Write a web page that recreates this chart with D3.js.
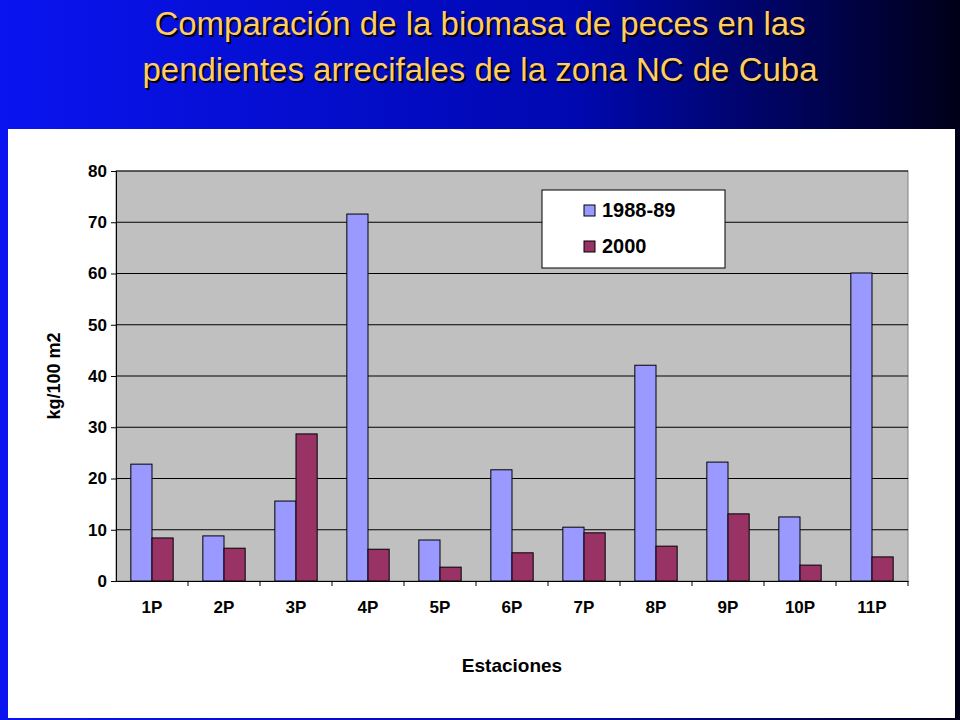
<!DOCTYPE html>
<html><head><meta charset="utf-8">
<script src="https://cdn.jsdelivr.net/npm/d3@7"></script>
<style>body{margin:0;overflow:hidden}</style>
</head><body>
<svg id="chart" width="960" height="720"></svg>
<script>
// data
const stations = ["1P","2P","3P","4P","5P","6P","7P","8P","9P","10P","11P"];
const series1988 = [22.8, 8.8, 15.6, 71.6, 8.0, 21.7, 10.5, 42.1, 23.2, 12.5, 60.1];
const series2000 = [8.4, 6.4, 28.7, 6.2, 2.7, 5.5, 9.4, 6.8, 13.1, 3.1, 4.7];
const seriesNames = ["1988-89", "2000"];
const yTicks = [0,10,20,30,40,50,60,70,80];
const colors = ["#9999ff", "#993366"];

const svg = d3.select("#chart");
const defs = svg.append("defs");
const grad = defs.append("linearGradient").attr("id","bg").attr("x1","0").attr("x2","1");
grad.append("stop").attr("offset","0").attr("stop-color","#0a14f0");
grad.append("stop").attr("offset","0.6").attr("stop-color","#0008b0");
grad.append("stop").attr("offset","1").attr("stop-color","#000018");
svg.append("rect").attr("width",960).attr("height",720).attr("fill","url(#bg)");
svg.append("rect").attr("x",8).attr("y",129).attr("width",947).attr("height",589).attr("fill","#fff");

// title
const title = ["Comparación de la biomasa de peces en las","pendientes arrecifales de la zona NC de Cuba"];
title.forEach((t,i) => {
  svg.append("text").attr("x",482).attr("y",37+i*46).attr("text-anchor","middle")
    .attr("font-family","Arial, Liberation Sans").attr("font-size",33).attr("fill","#000")
    .text(t);
  svg.append("text").attr("x",480).attr("y",35+i*46).attr("text-anchor","middle")
    .attr("font-family","Arial, Liberation Sans").attr("font-size",33).attr("fill","#ffcc66")
    .text(t);
});

const pLeft = 116, pRight = 908, pTop = 171, pBottom = 581;
const x = d3.scaleBand().domain(stations).range([pLeft, pRight]);
const y = d3.scaleLinear().domain([0,80]).range([pBottom, pTop]);

svg.append("rect").attr("x",pLeft).attr("y",pTop).attr("width",pRight-pLeft).attr("height",pBottom-pTop)
  .attr("fill","#c0c0c0").attr("stroke","#808080");
svg.append("g").selectAll("line").data(yTicks.slice(1)).join("line")
  .attr("x1",pLeft).attr("x2",pRight).attr("y1",d=>y(d)).attr("y2",d=>y(d)).attr("stroke","#000");

const bw = x.bandwidth() * 0.294;
const g = svg.append("g");
stations.forEach((s,i) => {
  [series1988[i], series2000[i]].forEach((v,j) => {
    g.append("rect").attr("x", x(s) + x.bandwidth()*0.206 + j*bw).attr("width",bw)
      .attr("y",y(v)).attr("height",pBottom-y(v))
      .attr("fill",colors[j]).attr("stroke","#000");
  });
});

const yAx = svg.append("g").attr("transform",`translate(${pLeft},0)`)
  .call(d3.axisLeft(y).tickValues(yTicks).tickSize(5).tickPadding(4));
const xAx = svg.append("g").attr("transform",`translate(0,${pBottom})`)
  .call(d3.axisBottom(x).tickSize(0).tickPadding(20));
xAx.selectAll(".tick").append("line").attr("x1",x.bandwidth()/2).attr("x2",x.bandwidth()/2).attr("y2",5).attr("stroke","#000");
[yAx, xAx].forEach(a => {
  a.selectAll("text").attr("font-family","Arial, Liberation Sans").attr("font-size",17).attr("font-weight","bold").attr("fill","#000");
  a.select(".domain").attr("stroke","#000");
});

svg.append("text").attr("x",512).attr("y",672).attr("text-anchor","middle")
  .attr("font-family","Arial, Liberation Sans").attr("font-size",19).attr("font-weight","bold").text("Estaciones");
svg.append("text").attr("transform","translate(60,376) rotate(-90)").attr("text-anchor","middle")
  .attr("font-family","Arial, Liberation Sans").attr("font-size",18).attr("font-weight","bold").text("kg/100 m2");

// legend
const lg = svg.append("g").attr("transform","translate(542,190)");
lg.append("rect").attr("width",183).attr("height",78).attr("fill","#fff").attr("stroke","#000");
seriesNames.forEach((n,i) => {
  lg.append("rect").attr("x",42).attr("y",15+i*36).attr("width",11).attr("height",11).attr("fill",colors[i]).attr("stroke","#000");
  lg.append("text").attr("x",60).attr("y",27+i*36).attr("font-family","Arial, Liberation Sans").attr("font-size",20).attr("font-weight","bold").text(n);
});
</script>
</body></html>
